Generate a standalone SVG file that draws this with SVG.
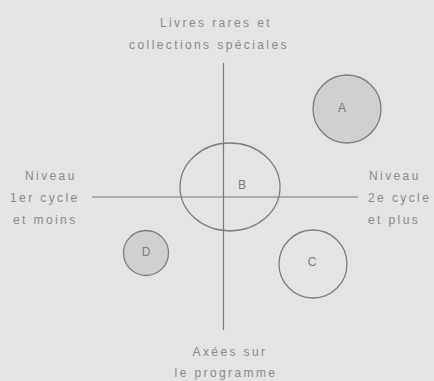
<svg xmlns="http://www.w3.org/2000/svg" width="434" height="381" viewBox="0 0 434 381">
  <style>
    .lbl { font-family: "Liberation Sans", Arial, sans-serif; font-size: 12px; fill: #8a8a8a; letter-spacing: 2.4px; }
    .mid { text-anchor: middle; }
    .node { stroke: #7e7e7e; stroke-width: 1.3; }
    .shaded { fill: #d0d0d0; }
    .plain { fill: none; }
    .nl { font-family: "Liberation Sans", Arial, sans-serif; font-size: 12px; fill: #7a7a7a; text-anchor: middle; }
    .axis { stroke: #7a7a7a; stroke-width: 1.2; }
  </style>
  <rect width="434" height="381" fill="#e4e4e4"/>
  <g id="connectors">
    <line class="axis" x1="223.5" y1="63" x2="223.5" y2="330"/>
    <line class="axis" x1="92" y1="197" x2="358" y2="197"/>
  </g>
  <g id="node-A">
    <circle class="node shaded" cx="347" cy="109" r="34"/>
    <text class="nl" x="342" y="112">A</text>
  </g>
  <g id="node-B">
    <ellipse class="node plain" cx="230" cy="187" rx="50" ry="44"/>
    <text class="nl" x="242" y="189">B</text>
  </g>
  <g id="node-C">
    <circle class="node plain" cx="313" cy="264" r="34"/>
    <text class="nl" x="312" y="266">C</text>
  </g>
  <g id="node-D">
    <circle class="node shaded" cx="146" cy="253" r="22.5"/>
    <text class="nl" x="146" y="256">D</text>
  </g>
  <g id="label-top">
    <text class="lbl mid" x="216" y="27">Livres rares et</text>
    <text class="lbl mid" x="209" y="49">collections spéciales</text>
  </g>
  <g id="label-left">
    <text class="lbl" x="25" y="180">Niveau</text>
    <text class="lbl" x="10" y="202">1er cycle</text>
    <text class="lbl" x="13" y="224">et moins</text>
  </g>
  <g id="label-right">
    <text class="lbl" x="369" y="180">Niveau</text>
    <text class="lbl" x="368" y="202">2e cycle</text>
    <text class="lbl" x="368" y="224">et plus</text>
  </g>
  <g id="label-bottom">
    <text class="lbl mid" x="230" y="356">Axées sur</text>
    <text class="lbl mid" x="226" y="377">le programme</text>
  </g>
</svg>
